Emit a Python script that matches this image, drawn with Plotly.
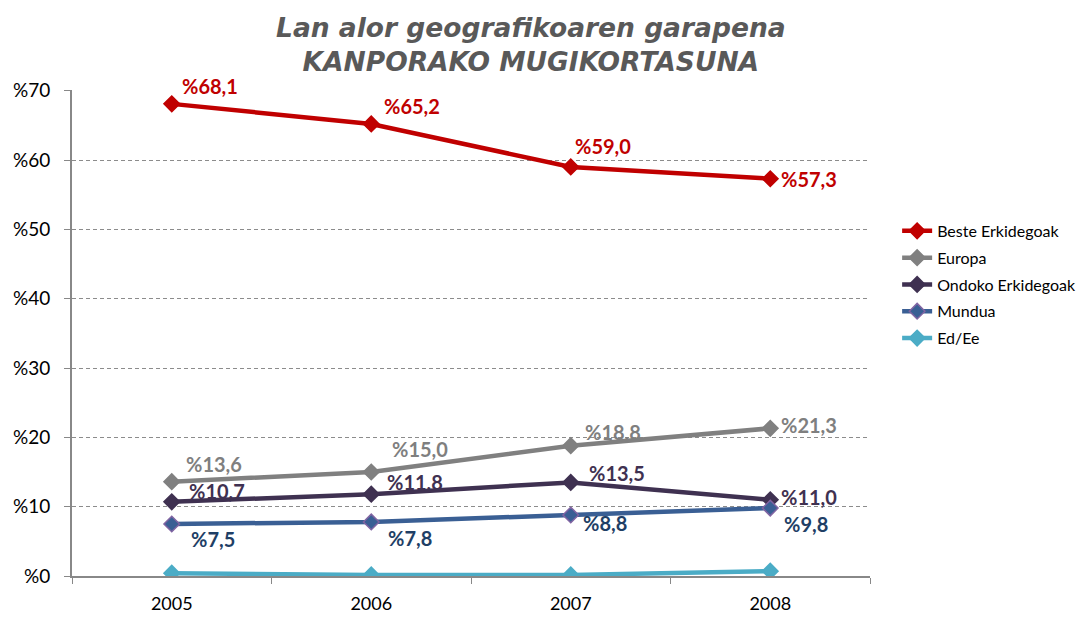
import plotly.graph_objects as go

years = ["2005", "2006", "2007", "2008"]
series_names = ["Beste Erkidegoak", "Europa", "Ondoko Erkidegoak", "Mundua", "Ed/Ee"]
beste = [68.1, 65.2, 59.0, 57.3]
europa = [13.6, 15.0, 18.8, 21.3]
ondoko = [10.7, 11.8, 13.5, 11.0]
mundua = [7.5, 7.8, 8.8, 9.8]
edee = [0.4, 0.15, 0.15, 0.7]
y_ticks = [0, 10, 20, 30, 40, 50, 60, 70]
y_ticklabels = ["%" + str(v) for v in y_ticks]

values = [beste, europa, ondoko, mundua, edee]
show_labels = [True, True, True, True, False]

line_colors = ["#C00000", "#808080", "#3F3151", "#3A5F94", "#4BACC6"]
marker_fill = ["#C00000", "#808080", "#3F3151", "#3A5F94", "#4BACC6"]
marker_line = ["#C00000", "#808080", "#3F3151", "#8064A2", "#4BACC6"]
label_colors = ["#C00000", "#7F7F7F", "#3F3151", "#1F3F66", "#4BACC6"]
label_offsets = [
    [(38, 18), (41, 18), (32, 21), (39, 0)],
    [(42, 18), (49, 23), (42, 14), (39, 3)],
    [(45, 11), (44, 12), (46, 9), (39, 3)],
    [(41, -15), (39, -16), (34, -8), (36, -16)],
    None,
]

fig = go.Figure()
annotations = []
for i, (name, vals) in enumerate(zip(series_names, values)):
    fig.add_trace(go.Scatter(
        x=years, y=vals, name=name, mode="lines+markers",
        legendgroup=name,
        line=dict(color=line_colors[i], width=4.5),
        marker=dict(symbol="diamond", size=12, color=marker_fill[i],
                    line=dict(color=marker_line[i], width=1.5)),
    ))
    if show_labels[i]:
        for j, v in enumerate(vals):
            dx, dy = label_offsets[i][j]
            annotations.append(dict(
                x=j, y=v, xref="x", yref="y",
                text="<b>%" + f"{v:.1f}".replace(".", ",") + "</b>",
                showarrow=False, xshift=dx, yshift=dy,
                font=dict(family="Lato", size=20, color=label_colors[i]),
            ))

annotations.append(dict(
    x=(531 - 72) / 798, y=1.0, xref="paper", yref="paper", yanchor="bottom",
    xanchor="center", yshift=11, showarrow=False,
    text="<b><i>Lan alor geografikoaren garapena<br>KANPORAKO MUGIKORTASUNA</i></b>",
    font=dict(family="DejaVu Sans", size=26.5, color="#595959"),
))

fig.update_layout(
    width=1089, height=617,
    margin=dict(l=64, r=227, t=82, b=49, autoexpand=False),
    paper_bgcolor="white", plot_bgcolor="white",
    showlegend=True,
    legend=dict(x=1.034, y=0.745, xanchor="left", yanchor="top",
                font=dict(family="Lato", size=16, color="black"),
                tracegroupgap=3, bgcolor="rgba(0,0,0,0)"),
    annotations=annotations,
    xaxis=dict(type="category", range=[-0.5, 3.5], showgrid=False, automargin=False,
               showline=True, linecolor="#888888", linewidth=2,
               ticks="outside", tickson="boundaries", ticklen=6, tickcolor="#888888",
               ticklabelstandoff=10,
               tickfont=dict(family="Lato", size=18, color="black"), zeroline=False),
    yaxis=dict(range=[0, 70.1], tickvals=y_ticks, ticktext=y_ticklabels, automargin=False,
               showgrid=True, gridcolor="#8C8C8C", griddash="4px,3px", gridwidth=1,
               showline=True, linecolor="#888888", linewidth=2,
               ticks="outside", ticklen=6, tickcolor="#888888",
               ticklabelstandoff=10,
               tickfont=dict(family="Lato", size=19, color="black"), zeroline=False),
)

fig.write_html("out.html")
